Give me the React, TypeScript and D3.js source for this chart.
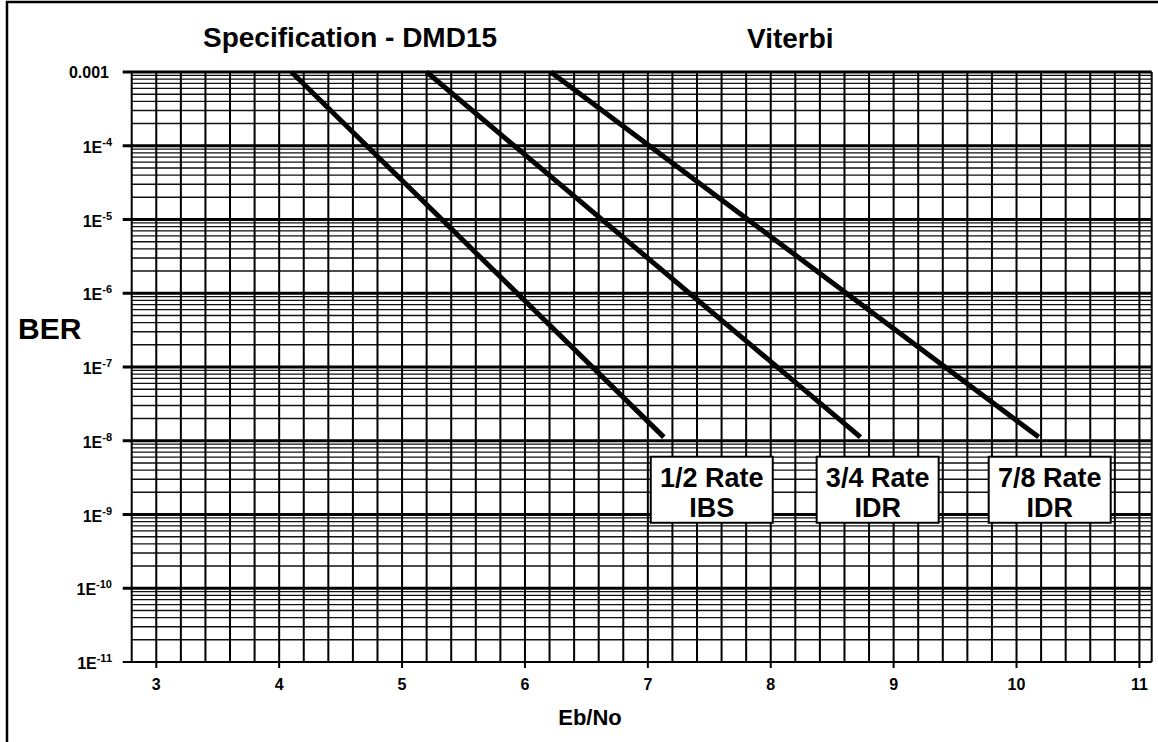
import React from "react";
import * as d3 from "d3";

// ---- Data ----
const xDomain: [number, number] = [2.8, 11.1];
const yDomain: [number, number] = [1e-11, 1e-3];
const xTickValues = [3, 4, 5, 6, 7, 8, 9, 10, 11];
const yDecades = [-3, -4, -5, -6, -7, -8, -9, -10, -11];

const rate12X = [4.1, 7.13];
const rate12Y = [1e-3, 1.12e-8];
const rate34X = [5.2, 8.73];
const rate34Y = [1e-3, 1.12e-8];
const rate78X = [6.21, 10.18];
const rate78Y = [1e-3, 1.12e-8];

const seriesNames = ["1/2 Rate", "3/4 Rate", "7/8 Rate"];
const seriesSub = ["IBS", "IDR", "IDR"];
const labelCenters = [7.52, 8.87, 10.27];

const W = 1158;
const H = 742;
const M = { left: 131.7, right: 1151.7, top: 72, bottom: 662 };

export default function App() {
  const x = d3.scaleLinear().domain(xDomain).range([M.left, M.right]);
  const y = d3.scaleLog().domain(yDomain).range([M.bottom, M.top]);

  const vLines: number[] = [];
  for (let i = 0; i <= 41; i++) vLines.push(+(2.8 + i * 0.2).toFixed(2));
  vLines.push(11.1);

  const minor: number[] = [];
  for (let d = -11; d < -3; d++) {
    for (let m = 2; m <= 9; m++) minor.push(m * Math.pow(10, d));
  }

  const line = d3
    .line<[number, number]>()
    .x((p) => x(p[0]))
    .y((p) => y(p[1]));

  const series = [
    rate12X.map((v, i) => [v, rate12Y[i]] as [number, number]),
    rate34X.map((v, i) => [v, rate34Y[i]] as [number, number]),
    rate78X.map((v, i) => [v, rate78Y[i]] as [number, number]),
  ];

  const font = "'Liberation Sans', Arial, Helvetica, sans-serif";
  const boxTop = y(1e-8) + 16;

  return (
    <svg
      width={W}
      height={H}
      style={{ position: "absolute", left: 0, top: 0, background: "#fff" }}
      fontFamily={font}
      fontWeight="bold"
    >
      <rect x={0} y={0} width={W} height={H} fill="#fff" />
      {/* frame */}
      <rect x={7} y={2} width={W + 10} height={H + 10} fill="none" stroke="#000" strokeWidth={2.5} />

      {/* horizontal minor grid */}
      {minor.map((v, i) => (
        <line key={"mh" + i} x1={M.left} x2={M.right} y1={y(v)} y2={y(v)} stroke="#111" strokeWidth={1.4} />
      ))}
      {/* decade lines */}
      {yDecades.map((d) => (
        <line
          key={"dh" + d}
          x1={M.left - 9}
          x2={M.right}
          y1={y(Math.pow(10, d))}
          y2={y(Math.pow(10, d))}
          stroke="#000"
          strokeWidth={d === -11 ? 2 : 3}
        />
      ))}
      {/* vertical grid */}
      {vLines.map((v, i) => {
        const isInt = Math.abs(v - Math.round(v)) < 1e-6 && v >= 3;
        return (
          <line
            key={"v" + i}
            x1={x(v)}
            x2={x(v)}
            y1={M.top}
            y2={isInt ? M.bottom + 6 : M.bottom}
            stroke="#000"
            strokeWidth={2}
          />
        );
      })}

      {/* data lines */}
      {series.map((s, i) => (
        <path key={"s" + i} d={line(s) || ""} fill="none" stroke="#000" strokeWidth={5} strokeLinecap="butt" />
      ))}

      {/* label boxes */}
      {seriesNames.map((n, i) => {
        const cx = x(labelCenters[i]);
        return (
          <g key={"lb" + i}>
            <rect x={cx - 61} y={boxTop} width={122} height={66} fill="#fff" stroke="#000" strokeWidth={2} />
            <text x={cx} y={boxTop + 30} textAnchor="middle" fontSize={27}>
              {n}
            </text>
            <text x={cx} y={boxTop + 60} textAnchor="middle" fontSize={27}>
              {seriesSub[i]}
            </text>
          </g>
        );
      })}

      {/* y tick labels */}
      {yDecades.map((d) => {
        const yy = y(Math.pow(10, d));
        if (d === -3)
          return (
            <text key={"yl" + d} x={109} y={yy + 6} textAnchor="end" fontSize={16}>
              0.001
            </text>
          );
        return (
          <text key={"yl" + d} x={112} y={yy + 7} textAnchor="end" fontSize={16}>
            1E
            <tspan fontSize={11} dy={-7}>
              {String(d)}
            </tspan>
          </text>
        );
      })}

      {/* x tick labels */}
      {xTickValues.map((v) => (
        <text key={"xl" + v} x={x(v)} y={690} textAnchor="middle" fontSize={16}>
          {v}
        </text>
      ))}

      {/* axis titles */}
      <text x={18} y={339} fontSize={30}>
        BER
      </text>
      <text x={590} y={725} textAnchor="middle" fontSize={22}>
        Eb/No
      </text>

      {/* titles */}
      <text x={203} y={47} fontSize={28}>
        Specification - DMD15
      </text>
      <text x={747} y={48} fontSize={28}>
        Viterbi
      </text>
    </svg>
  );
}
